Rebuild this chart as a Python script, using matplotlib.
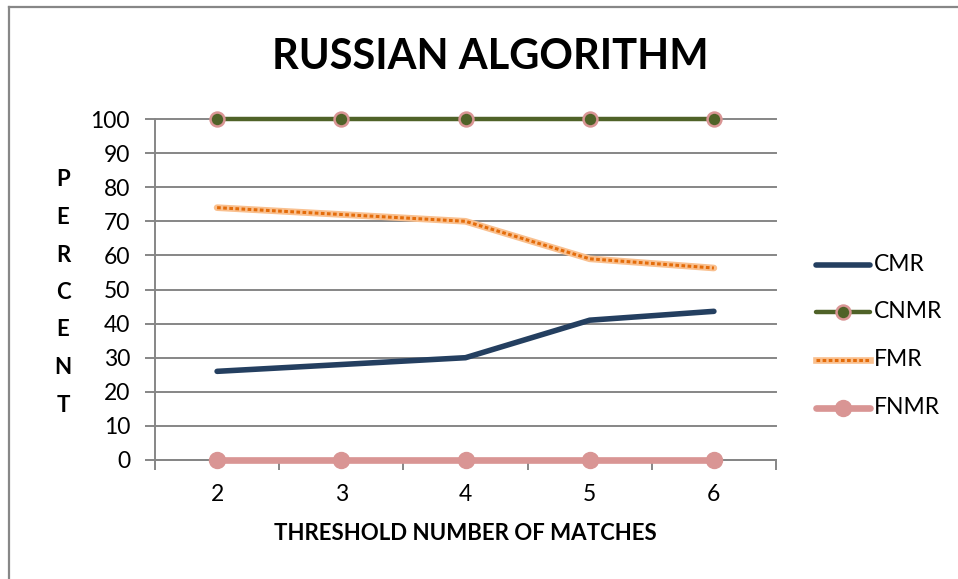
import matplotlib
matplotlib.use("Agg")
import matplotlib.pyplot as plt
from matplotlib.lines import Line2D

# Data
thresholds = [2, 3, 4, 5, 6]
cmr = [26, 28, 30, 41, 43.6]
cnmr = [100, 100, 100, 100, 100]
fmr = [74, 72, 70, 59, 56.3]
fnmr = [0, 0, 0, 0, 0]
y_ticks = [0, 10, 20, 30, 40, 50, 60, 70, 80, 90, 100]

FONT = "Lato"
plt.rcParams["font.family"] = [FONT, "DejaVu Sans"]

W, H = 958, 579
fig = plt.figure(figsize=(W / 100, H / 100), dpi=100)

# Chart frame (top and left edges)
fig.add_artist(Line2D([9 / W, 1.0], [1 - 7 / H, 1 - 7 / H], color="#878787", lw=1.6))
fig.add_artist(Line2D([9 / W, 9 / W], [0, 1 - 7 / H], color="#878787", lw=1.6))

ax = fig.add_axes([155 / W, (H - 460) / H, (776 - 155) / W, (460 - 119) / H])
ax.set_xlim(1.5, 6.5)
ax.set_ylim(0, 100)

grid_c = "#868686"
for v in y_ticks:
    ax.axhline(v, color=grid_c, lw=1.4, zorder=1, clip_on=False)

for s in ["top", "right"]:
    ax.spines[s].set_visible(False)
ax.spines["left"].set_color(grid_c)
ax.spines["left"].set_linewidth(1.4)
ax.spines["bottom"].set_color(grid_c)
ax.spines["bottom"].set_linewidth(1.4)

ax.set_yticks(y_ticks)
ax.set_yticklabels([str(v) for v in y_ticks], fontsize=16.5)
ax.tick_params(axis="y", length=7, width=1.4, color=grid_c, pad=11)

ax.set_xticks([1.5, 2.5, 3.5, 4.5, 5.5, 6.5])
ax.set_xticklabels([])
ax.set_xticks(thresholds, minor=True)
ax.set_xticklabels([str(t) for t in thresholds], minor=True, fontsize=16.5)
ax.tick_params(axis="x", which="major", length=7, width=1.4, color=grid_c)
ax.tick_params(axis="x", which="minor", length=0, pad=17)

navy = "#243F60"
olive = "#4F6228"
pink = "#D99594"
orange_dark = "#E46C0A"
orange_light = "#F9C08F"

ax.plot(thresholds, cmr, color=navy, lw=4.0, solid_capstyle="round", zorder=4, label="CMR")
ax.plot(thresholds, cnmr, color=olive, lw=3.2, marker="o", markersize=10,
        markerfacecolor=olive, markeredgecolor=pink, markeredgewidth=1.8,
        zorder=5, clip_on=False, label="CNMR")
ax.plot(thresholds, fmr, color=orange_light, lw=4.8, solid_capstyle="round",
        zorder=3, label="FMR")
ax.plot(thresholds, fmr, color=orange_dark, lw=2.2, linestyle=(0, (1.2, 0.8)), zorder=3.5)
ax.plot(thresholds, fnmr, color=pink, lw=4.8, marker="o", markersize=11.5,
        markerfacecolor=pink, markeredgecolor=pink, zorder=5, clip_on=False, label="FNMR")

# Legend drawn manually on the right
leg_rows = [265, 312, 360, 408]
leg_labels = ["CMR", "CNMR", "FMR", "FNMR"]
x0, x1 = 816 / W, 870 / W
for yy, lab in zip(leg_rows, leg_labels):
    yf = 1 - yy / H
    if lab == "CMR":
        fig.add_artist(Line2D([x0, x1], [yf, yf], color=navy, lw=4.0, solid_capstyle="round"))
    elif lab == "CNMR":
        fig.add_artist(Line2D([x0, x1], [yf, yf], color=olive, lw=3.2, solid_capstyle="round"))
        fig.add_artist(Line2D([(x0 + x1) / 2], [yf], marker="o", markersize=10,
                              markerfacecolor=olive, markeredgecolor=pink, markeredgewidth=1.8))
    elif lab == "FMR":
        fig.add_artist(Line2D([x0, x1], [yf, yf], color=orange_light, lw=4.8))
        fig.add_artist(Line2D([x0, x1], [yf, yf], color=orange_dark, lw=2.2,
                              linestyle=(0, (1.2, 0.8))))
    else:
        fig.add_artist(Line2D([x0, x1], [yf, yf], color=pink, lw=4.8, solid_capstyle="round"))
        fig.add_artist(Line2D([(x0 + x1) / 2], [yf], marker="o", markersize=11.5,
                              markerfacecolor=pink, markeredgecolor=pink))
    fig.text(874 / W, yf, lab, fontsize=16.5, va="center", ha="left")

# Title
fig.text(490 / W, 1 - 57 / H, "RUSSIAN ALGORITHM", fontsize=30, fontweight="bold",
         ha="center", va="center")

# Axis titles
fig.text(465 / W, 1 - 533 / H, "THRESHOLD NUMBER OF MATCHES", fontsize=16,
         fontweight="bold", ha="center", va="center")
for i, ch in enumerate("PERCENT"):
    fig.text(63 / W, 1 - (180 + i * 37.5) / H, ch, fontsize=16, fontweight="bold",
             ha="center", va="center")

fig.savefig("out.png", dpi=100)
